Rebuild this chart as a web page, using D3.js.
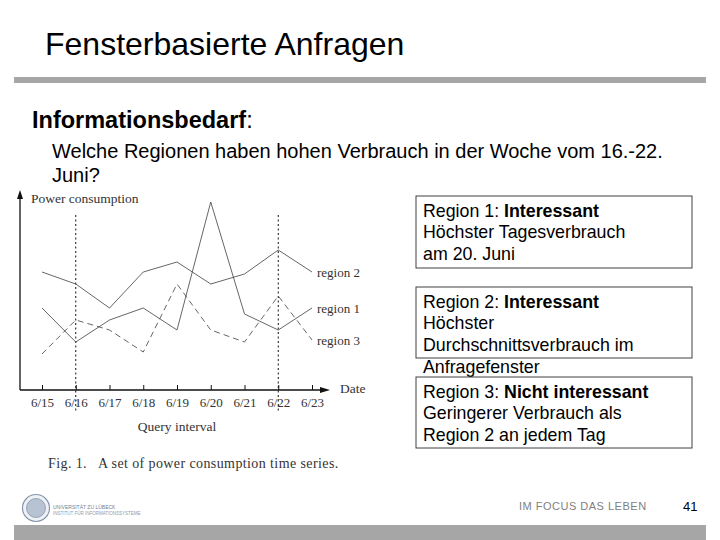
<!DOCTYPE html>
<html>
<head>
<meta charset="utf-8">
<script src="https://cdn.jsdelivr.net/npm/d3@7"></script>
<style>
  body { margin: 0; background: #fff; }
  svg { display: block; }
</style>
</head>
<body>
<svg id="slide"></svg>
<script>
// ---------------------------- DATA ----------------------------//
const dates = ['6/15', '6/16', '6/17', '6/18', '6/19', '6/20', '6/21', '6/22', '6/23'];
const region1 = [41, 24, 35, 41, 30, 94, 38, 30, 41];
const region2 = [59, 53, 41, 59, 64, 53, 58, 70, 59];
const region3 = [18, 35, 30, 19, 53, 30, 24, 47, 25];
const queryWindow = ['6/16', '6/22'];

const boxes = [
  {head: 'Region 1: ', bold: 'Interessant', lines: ['Höchster Tagesverbrauch', 'am 20. Juni']},
  {head: 'Region 2: ', bold: 'Interessant', lines: ['Höchster', 'Durchschnittsverbrauch im', 'Anfragefenster']},
  {head: 'Region 3: ', bold: 'Nicht interessant', lines: ['Geringerer Verbrauch als', 'Region 2 an jedem Tag']}
];

const W = 720, H = 540;
const svg = d3.select('#slide').attr('width', W).attr('height', H);
svg.append('rect').attr('width', W).attr('height', H).attr('fill', '#fff');

const sans = 'Liberation Sans, Arial, sans-serif';
const serif = 'Liberation Serif, Times New Roman, serif';

// ---------------------------- HEADER ----------------------------//
svg.append('text')
  .attr('x', 45).attr('y', 55)
  .style('font-family', sans).style('font-size', '32px')
  .text('Fensterbasierte Anfragen');

svg.append('rect')
  .attr('x', 14).attr('y', 77).attr('width', 692).attr('height', 6)
  .attr('fill', '#a6a6a6');

svg.append('text')
  .attr('x', 32).attr('y', 128)
  .style('font-family', sans).style('font-size', '23.5px')
  .call(t => {
    t.append('tspan').style('font-weight', 'bold').text('Informationsbedarf');
    t.append('tspan').text(':');
  });

svg.append('text')
  .attr('x', 52).attr('y', 158)
  .style('font-family', sans).style('font-size', '20px')
  .text('Welche Regionen haben hohen Verbrauch in der Woche vom 16.-22.');
svg.append('text')
  .attr('x', 52).attr('y', 182)
  .style('font-family', sans).style('font-size', '20px')
  .text('Juni?');

// ---------------------------- CHART ----------------------------//
const chart = svg.append('g');
const ink = '#333';

const x = d3.scalePoint().domain(dates).range([42, 312]);
const y = d3.scaleLinear().domain([0, 100]).range([390, 190]);

// query window (dotted)
chart.selectAll('.window')
  .data(queryWindow)
  .enter().append('line')
  .attr('x1', d => x(d)).attr('x2', d => x(d))
  .attr('y1', 215).attr('y2', 413)
  .attr('stroke', '#111').attr('stroke-width', 1)
  .attr('stroke-dasharray', '2,2.5');

// axes
chart.append('line')
  .attr('x1', 20).attr('x2', 20).attr('y1', 390).attr('y2', 196)
  .attr('stroke', '#111').attr('stroke-width', 1.3);
chart.append('path')
  .attr('d', 'M20,190 L17,199 L23,199 Z').attr('fill', '#111');

chart.append('line')
  .attr('x1', 20).attr('x2', 322).attr('y1', 390).attr('y2', 390)
  .attr('stroke', '#111').attr('stroke-width', 1.3);
chart.append('path')
  .attr('d', 'M330,390 L320,387 L320,393 Z').attr('fill', '#111');

const xaxis = d3.axisBottom(x).tickSizeInner(-5).tickSizeOuter(0).tickPadding(8);
const gx = chart.append('g')
  .attr('transform', 'translate(0,390)')
  .call(xaxis);
gx.select('.domain').remove();
gx.selectAll('.tick line').attr('stroke', '#111').attr('stroke-width', 1);
gx.selectAll('.tick text')
  .style('font-family', serif).style('font-size', '13px').attr('fill', ink);

// lines
const line = d3.line()
  .x((d, i) => x(dates[i]))
  .y(d => y(d));

const series = [
  {name: 'region 2', values: region2, dash: null},
  {name: 'region 1', values: region1, dash: null},
  {name: 'region 3', values: region3, dash: '6,4'}
];

chart.selectAll('.series')
  .data(series)
  .enter().append('path')
  .attr('d', d => line(d.values))
  .attr('fill', 'none')
  .attr('stroke', '#4a4a4a')
  .attr('stroke-width', 0.85)
  .attr('stroke-dasharray', d => d.dash);

chart.selectAll('.label')
  .data(series)
  .enter().append('text')
  .attr('x', d => x(dates[dates.length - 1]) + 5)
  .attr('y', d => y(d.values[d.values.length - 1]) + 2)
  .attr('dominant-baseline', 'middle')
  .style('font-family', serif).style('font-size', '13px').attr('fill', ink)
  .text(d => d.name);

// axis titles and caption
chart.append('text')
  .attr('x', 31).attr('y', 203)
  .style('font-family', serif).style('font-size', '13.5px').attr('fill', ink)
  .text('Power consumption');
chart.append('text')
  .attr('x', 340).attr('y', 390).attr('dominant-baseline', 'middle')
  .style('font-family', serif).style('font-size', '13.5px').attr('fill', ink)
  .text('Date');
chart.append('text')
  .attr('x', 177).attr('y', 431).attr('text-anchor', 'middle')
  .style('font-family', serif).style('font-size', '13.5px').attr('fill', ink)
  .text('Query interval');
chart.append('text')
  .attr('x', 48).attr('y', 468)
  .style('font-family', serif).style('font-size', '14px').style('letter-spacing', '0.4px')
  .attr('fill', ink)
  .attr('xml:space', 'preserve')
  .text('Fig. 1.   A set of power consumption time series.');

// ---------------------------- TEXT BOXES ----------------------------//
const boxTop = [196, 287, 377];
const boxBottom = [268, 358, 448];
const lh = 21.7;

boxes.forEach((b, i) => {
  svg.append('rect')
    .attr('x', 416).attr('y', boxTop[i])
    .attr('width', 276).attr('height', boxBottom[i] - boxTop[i])
    .attr('fill', 'none').attr('stroke', '#404040').attr('stroke-width', 1);
  const t = svg.append('text')
    .attr('x', 423).attr('y', boxTop[i] + 20.5)
    .style('font-family', sans).style('font-size', '17.8px');
  t.append('tspan').text(b.head);
  t.append('tspan').style('font-weight', 'bold').text(b.bold);
  b.lines.forEach((l, j) => {
    svg.append('text')
      .attr('x', 423).attr('y', boxTop[i] + 20.5 + lh * (j + 1))
      .style('font-family', sans).style('font-size', '17.8px')
      .text(l);
  });
});

// ---------------------------- FOOTER ----------------------------//
svg.append('rect')
  .attr('x', 14).attr('y', 525).attr('width', 692).attr('height', 15)
  .attr('fill', '#a6a6a6');

const logo = svg.append('g').attr('transform', 'translate(36,508)');
logo.append('circle').attr('r', 13.5).attr('fill', '#eef1f5').attr('stroke', '#8796ab').attr('stroke-width', 1.2);
logo.append('circle').attr('r', 9.5).attr('fill', '#b7c2d2').attr('stroke', '#8796ab').attr('stroke-width', 0.8);
svg.append('text')
  .attr('x', 53).attr('y', 509)
  .style('font-family', sans).style('font-size', '5px').attr('fill', '#6f7f96')
  .text('UNIVERSITÄT ZU LÜBECK');
svg.append('text')
  .attr('x', 53).attr('y', 515)
  .style('font-family', sans).style('font-size', '4.5px').attr('fill', '#8d9bb0')
  .text('INSTITUT FÜR INFORMATIONSSYSTEME');

svg.append('text')
  .attr('x', 519).attr('y', 510)
  .style('font-family', sans).style('font-size', '11px').style('letter-spacing', '0.5px')
  .attr('fill', '#7f7f7f')
  .text('IM FOCUS DAS LEBEN');
svg.append('text')
  .attr('x', 683).attr('y', 511)
  .style('font-family', sans).style('font-size', '13px')
  .text('41');
</script>
</body>
</html>
